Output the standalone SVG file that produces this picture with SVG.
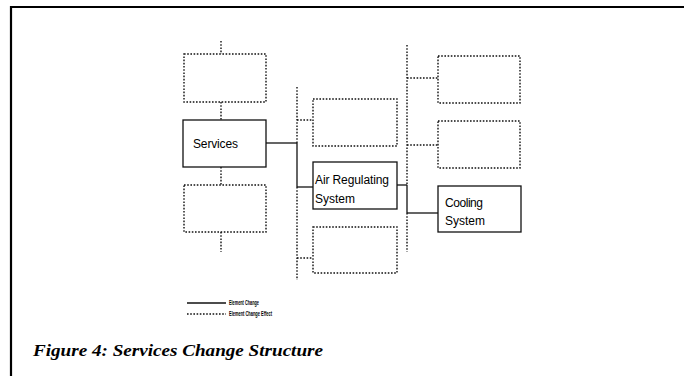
<svg xmlns="http://www.w3.org/2000/svg" width="684" height="376" viewBox="0 0 684 376">
<style>
.solid{fill:none;stroke:#111;stroke-width:1.3}
.dot{fill:none;stroke:#111;stroke-width:1.4;stroke-dasharray:1.6 1.6}
.lbl{font-family:"Liberation Sans",Arial,sans-serif;font-size:12px;fill:#000}
.leg{font-family:"Liberation Sans",Arial,sans-serif;font-size:6.5px;font-weight:bold;fill:#000}
.cap{font-family:"Liberation Serif","Times New Roman",serif;font-size:17px;font-style:italic;font-weight:bold;fill:#000}
</style>
<rect width="684" height="376" fill="#fff"/>
<g id="frame">
<path d="M11,376 V7 H684" fill="none" stroke="#000" stroke-width="2.2"/>
</g>
<g id="connectors">
<line class="dot" x1="221" y1="41" x2="221" y2="54"/>
<line class="dot" x1="221" y1="102" x2="221" y2="120"/>
<line class="dot" x1="221" y1="167" x2="221" y2="185"/>
<line class="dot" x1="221" y1="232" x2="221" y2="252"/>
<line class="dot" x1="297" y1="87" x2="297" y2="143"/>
<line class="dot" x1="297" y1="187" x2="297" y2="280"/>
<line class="solid" x1="297" y1="143" x2="297" y2="187"/>
<line class="solid" x1="266" y1="143" x2="297" y2="143"/>
<line class="solid" x1="297" y1="187" x2="313" y2="187"/>
<line class="dot" x1="297" y1="120" x2="313" y2="120"/>
<line class="dot" x1="297" y1="258" x2="313" y2="258"/>
<line class="dot" x1="407" y1="45" x2="407" y2="185"/>
<line class="dot" x1="407" y1="213" x2="407" y2="252"/>
<line class="solid" x1="407" y1="185" x2="407" y2="213"/>
<line class="solid" x1="397" y1="185" x2="407" y2="185"/>
<line class="solid" x1="407" y1="213" x2="438" y2="213"/>
<line class="dot" x1="407" y1="78" x2="438" y2="78"/>
<line class="dot" x1="407" y1="145" x2="438" y2="145"/>
</g>
<g id="left-top"><rect class="dot" x="184" y="54" width="82" height="48"/></g>
<g id="services"><rect class="solid" x="183" y="120" width="83" height="47"/><text class="lbl" x="193" y="148" textLength="45" font-size="13">Services</text></g>
<g id="left-bottom"><rect class="dot" x="184" y="185" width="82" height="47"/></g>
<g id="mid-top"><rect class="dot" x="313" y="99" width="84" height="47"/></g>
<g id="air-regulating"><rect class="solid" x="313" y="162" width="84" height="47"/><text class="lbl" x="315" y="184" textLength="74">Air Regulating</text><text class="lbl" x="315" y="203">System</text></g>
<g id="mid-bottom"><rect class="dot" x="313" y="227" width="84" height="46"/></g>
<g id="right-top"><rect class="dot" x="438" y="56" width="82" height="47"/></g>
<g id="right-middle"><rect class="dot" x="438" y="121" width="82" height="47"/></g>
<g id="cooling"><rect class="solid" x="438" y="186" width="83" height="46"/><text class="lbl" x="445" y="207" textLength="38">Cooling</text><text class="lbl" x="445" y="225">System</text></g>
<g id="legend">
<line class="solid" x1="187" y1="303" x2="226" y2="303" stroke-width="1"/>
<text class="leg" x="229" y="305" textLength="30" lengthAdjust="spacingAndGlyphs">Element Change</text>
<line class="dot" x1="187" y1="314" x2="226" y2="314" stroke-width="1"/>
<text class="leg" x="229" y="316" textLength="43" lengthAdjust="spacingAndGlyphs">Element Change Effect</text>
</g>
<text class="cap" x="33" y="356" textLength="290" lengthAdjust="spacingAndGlyphs">Figure 4: Services Change Structure</text>
</svg>
